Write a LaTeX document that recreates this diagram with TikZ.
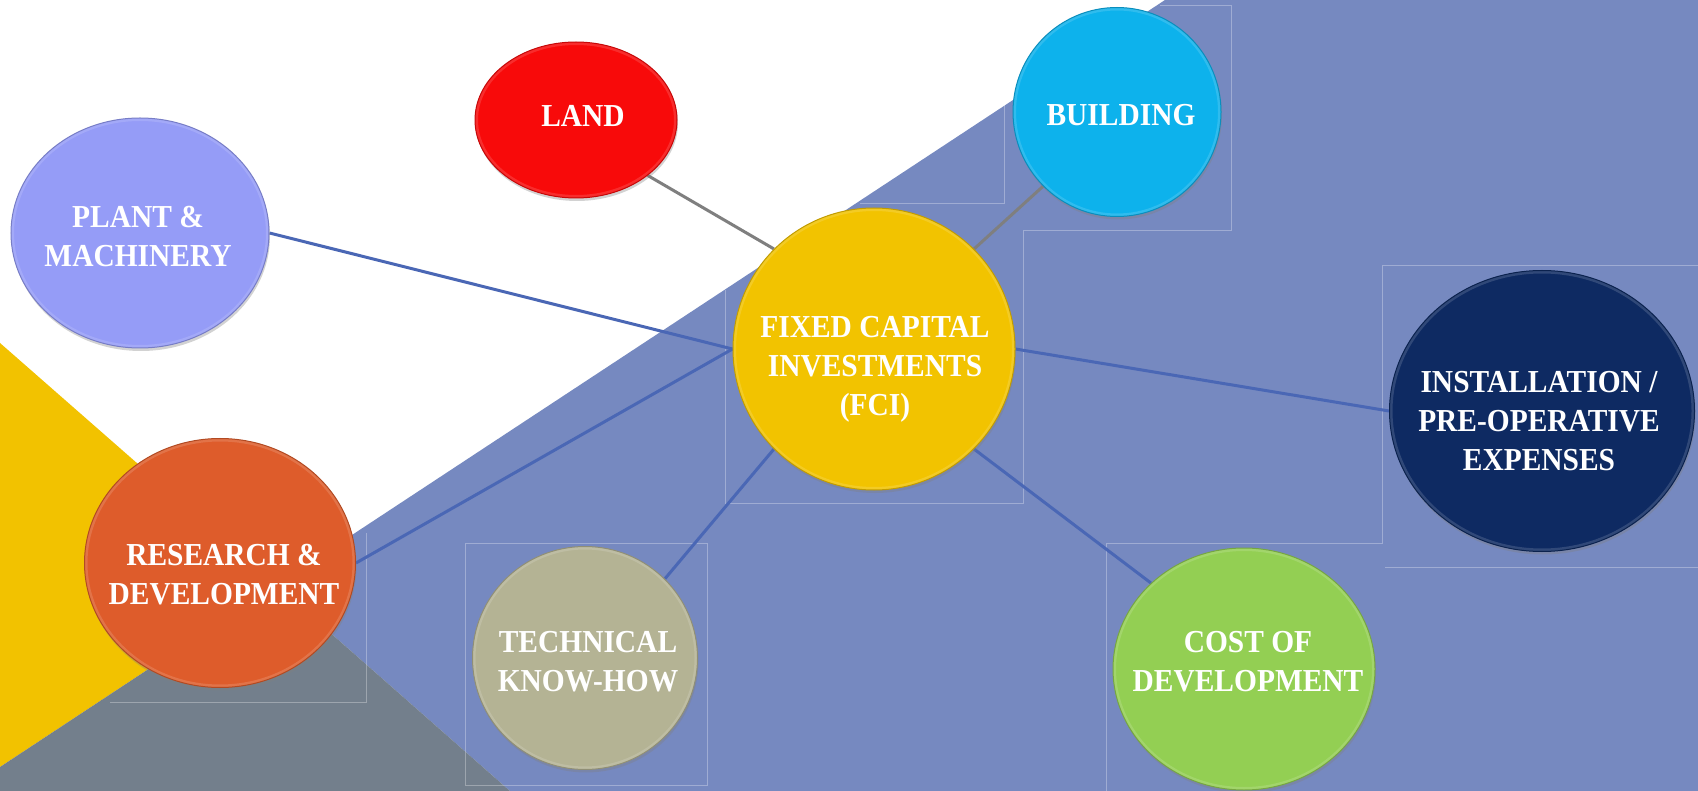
\documentclass[tikz,border=0pt]{standalone}
\usepackage{fontspec}
\setmainfont{Liberation Serif}
\usepackage{graphicx}
\usetikzlibrary{shapes.geometric,shadows,calc}
\definecolor{bgblue}{HTML}{7689C0}
\definecolor{bgyellow}{HTML}{F2C200}
\definecolor{bggray}{HTML}{737F8C}
\definecolor{linegray}{HTML}{7F7F7F}
\definecolor{lineblue}{HTML}{4A67B5}
\definecolor{landred}{HTML}{F80A0A}
\definecolor{buildingblue}{HTML}{0DB2EC}
\definecolor{plantviolet}{HTML}{959CF7}
\definecolor{fciyellow}{HTML}{F2C300}
\definecolor{installnavy}{HTML}{0E2A62}
\definecolor{rdorange}{HTML}{DE5C2B}
\definecolor{techkhaki}{HTML}{B4B394}
\definecolor{costgreen}{HTML}{93CF53}
\newcommand{\captext}[1]{\scalebox{0.92}[1]{\begin{tabular}{@{}c@{}}#1\end{tabular}}}
\pgfdeclarelayer{back}
\pgfdeclarelayer{links}
\pgfsetlayers{back,links,main}
\tikzset{
  bubble/.style={ellipse, inner sep=0pt, draw=#1!80!black, line width=1pt, fill=#1,
    drop shadow={opacity=0.35, shadow xshift=1pt, shadow yshift=-3pt},
    path picture={
      \coordinate (sw) at (path picture bounding box.south west);
      \coordinate (ne) at (path picture bounding box.north east);
      \draw[white, opacity=0.14, line width=6pt] let \p1=($(ne)-(sw)$) in
        ($(sw)!0.5!(ne)$) ellipse [x radius=0.5*\x1, y radius=0.5*\y1];
    }},
  bubbletext/.style={text=white, inner sep=0pt, font=\fontsize{32}{39}\selectfont\bfseries},
  link/.style={line width=3pt, draw=lineblue},
  greylink/.style={line width=3pt, draw=linegray},
  frame/.style={draw=white, draw opacity=0.3, line width=0.8pt}
}
\begin{document}
\begin{tikzpicture}[x=1pt, y=-1pt]
    \useasboundingbox (0,0) rectangle (1698,791);
    \clip (0,0) rectangle (1698,791);
    \begin{pgfonlayer}{back}
    \fill[white] (0,0) rectangle (1698,791);
    \fill[bgblue] (276,585) -- (1165,0) -- (1698,0) -- (1698,791) -- (510,791) -- cycle;
    \fill[bgyellow] (0,343) -- (276,585) -- (0,767) -- cycle;
    \fill[bggray] (276,585) -- (510,791) -- (0,791) -- (0,767) -- cycle;
    \draw[frame] (1004,0) -- (1004,203) -- (860,203);
    \draw[frame] (1160,5) -- (1231,5) -- (1231,230) -- (1023,230) -- (1023,503) -- (725,503) -- (725,290);
    \draw[frame] (1698,265) -- (1382,265) -- (1382,543) -- (1106,543) -- (1106,791);
    \draw[frame] (1385,567) -- (1698,567);
    \draw[frame] (465,543) rectangle (707,785);
    \draw[frame] (366,533) -- (366,702) -- (110,702);
    \end{pgfonlayer}

    \node[bubble=landred, minimum width=202pt, minimum height=156pt] (land) at (576,120) {};
    \node[bubble=buildingblue, minimum width=208pt, minimum height=209pt] (building) at (1117,112) {};
    \node[bubble=plantviolet, minimum width=258pt, minimum height=230pt] (plant) at (140,233) {};
    \node[bubble=fciyellow, minimum width=282pt, minimum height=282pt] (fci) at (874,349) {};
    \node[bubble=installnavy, minimum width=305pt, minimum height=281pt] (install) at (1542,411) {};
    \node[bubble=rdorange, minimum width=271pt, minimum height=249pt] (rd) at (220,563) {};
    \node[bubble=techkhaki, minimum width=225pt, minimum height=223pt] (tech) at (585,658) {};
    \node[bubble=costgreen, minimum width=262pt, minimum height=242pt] (cost) at (1244,669) {};

    \node[bubbletext] (land-t) at (583,118.8) {\captext{LAND}};
    \node[bubbletext] (building-t) at (1121,117.8) {\captext{BUILDING}};
    \node[bubbletext] (plant-t) at (138,239.3) {\captext{PLANT \&\\MACHINERY}};
    \node[bubbletext] (fci-t) at (875,368.8) {\captext{FIXED CAPITAL\\INVESTMENTS\\(FCI)}};
    \node[bubbletext] (install-t) at (1539,423.8) {\captext{INSTALLATION /\\PRE-OPERATIVE\\EXPENSES}};
    \node[bubbletext] (rd-t) at (224,576.8) {\captext{RESEARCH \&\\DEVELOPMENT}};
    \node[bubbletext] (tech-t) at (588,663.8) {\captext{TECHNICAL\\KNOW-HOW}};
    \node[bubbletext] (cost-t) at (1248,664.3) {\captext{COST OF\\DEVELOPMENT}};

    \begin{pgfonlayer}{links}
    \draw[greylink] (land.south east) -- (fci.north west);
    \draw[greylink] (building.south west) -- (fci.north east);
    \draw[link] (plant.east) -- (fci.west);
    \draw[link] (rd.east) -- (fci.west);
    \draw[link] (tech.north east) -- (fci.south west);
    \draw[link] (cost.north west) -- (fci.south east);
    \draw[link] (install.west) -- (fci.east);
    \end{pgfonlayer}
\end{tikzpicture}
\end{document}
